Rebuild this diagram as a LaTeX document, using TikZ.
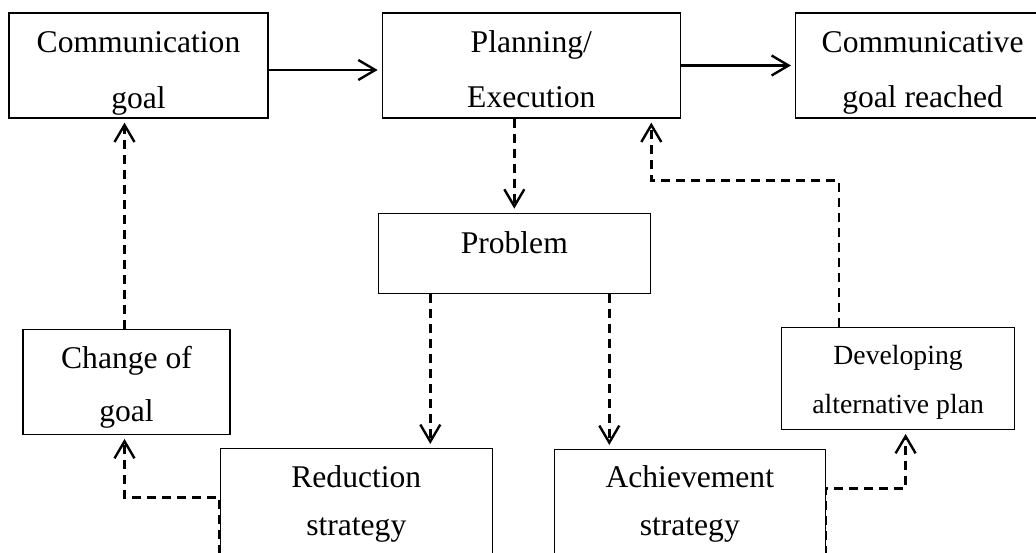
\documentclass[tikz,border=0pt]{standalone}
\usepackage{fontspec}
\setmainfont{Liberation Serif}
\usetikzlibrary{positioning, arrows.meta}
\newcommand{\boxtext}[1]{\begin{tabular}[t]{@{}c@{}}#1\end{tabular}}

\begin{document}
\begin{tikzpicture}[x=1pt, y=-1pt, font=\fontsize{31.6}{56}\selectfont,
    main/.style = {draw, rectangle, line width=1.3pt, inner sep=0pt, text height=0pt},
    flow/.style = {line width=2.4pt, -{Straight Barb[length=17pt, width=20pt]}, shorten >=4pt},
    dashy/.style = {flow, dash pattern=on 9pt off 6pt}]
                \useasboundingbox (0,0) rectangle (1036,553);
                \clip (0,0) rectangle (1036,553);
                \node[main, minimum width=259pt, minimum height=105pt, text depth=25pt] (comm) at (138.5,65.5) {\boxtext{Communication\\goal}};
                \node[main, minimum width=298pt, minimum height=105pt, text depth=25pt, font=\fontsize{31.6}{55}\selectfont] (plan) [right=113pt of comm] {\boxtext{Planning/\\Execution}};
                \node[main, minimum width=254pt, minimum height=105pt, text depth=25pt, font=\fontsize{31.6}{55}\selectfont] (reach) [right=114pt of plan] {\boxtext{Communicative\\goal reached}};
                \node[main, minimum width=272pt, minimum height=80pt, text depth=0pt] (prob) [below=94pt of plan, xshift=-17pt] {Problem};
                \node[main, minimum width=207pt, minimum height=105pt, text depth=27pt, font=\fontsize{31.6}{53}\selectfont] (change) [below=210pt of comm, xshift=-12pt] {\boxtext{Change of\\goal}};
                \node[main, minimum width=233pt, minimum height=102pt, text depth=28pt, font=\fontsize{27.7}{49}\selectfont] (dev) [below=208pt of reach, xshift=-24.5pt] {\boxtext{Developing\\alternative plan}};
                \node[main, minimum width=272pt, minimum height=120pt, text depth=42pt, font=\fontsize{31.6}{48}\selectfont] (red) [below=154pt of prob, xshift=-158pt] {\boxtext{Reduction\\strategy}};
                \node[main, minimum width=271pt, minimum height=120pt, text depth=44pt, font=\fontsize{31.6}{48}\selectfont] (ach) [below=155pt of prob, xshift=175.5pt] {\boxtext{Achievement\\strategy}};
                \draw[flow] ([yshift=-4.5pt]comm.east) -- ([yshift=-4.5pt]plan.west);
                \draw[flow] (plan.east) -- (reach.west);
                \draw[dashy] (plan.south -| prob.north) -- (prob.north);
                \draw[dashy] ([xshift=-59pt]dev.north) -- ++(0,-146) -| ([xshift=120pt]plan.south);
                \draw[dashy] ([xshift=-84pt]prob.south) -- ([xshift=74pt]red.north);
                \draw[dashy] ([xshift=95pt]prob.south) -- ([xshift=-80.5pt]ach.north);
                \draw[dashy] ([xshift=-2pt]change.north) -- ([xshift=-14pt]comm.south);
                \draw[dashy] (red.south west) -- ([yshift=11pt]red.west) -| ([xshift=-2pt]change.south);
                \draw[dashy] (ach.south east) -- ([yshift=21pt]ach.east) -| ([xshift=7.5pt]dev.south);
            \end{tikzpicture}
\end{document}
